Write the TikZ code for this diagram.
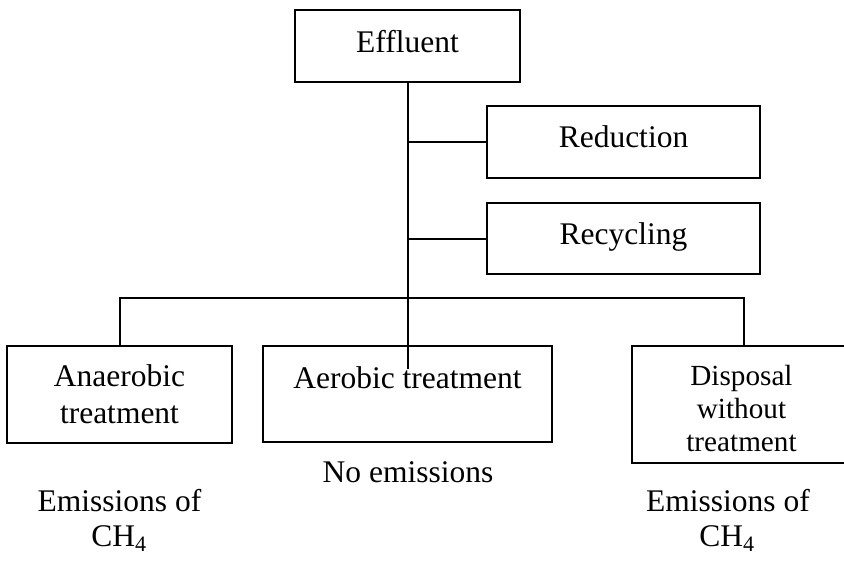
\documentclass[tikz,border=0pt]{standalone}
\usepackage{fontspec}
\setmainfont{Liberation Serif}
\begin{document}
\begin{tikzpicture}[x=1pt,y=-1pt,
  box/.style={draw=black,line width=2pt,rectangle,inner sep=0pt,fill=none},
  conn/.style={draw=black,line width=2pt},
  txt/.style={inner sep=0pt,anchor=base,font=\fontsize{31.5}{36}\selectfont},
  stxt/.style={inner sep=0pt,anchor=base,font=\fontsize{29.2}{34}\selectfont}]
\useasboundingbox (0,0) rectangle (844,560);
\fill[white] (0,0) rectangle (844,560);
% boxes
\node[box,minimum width=225pt,minimum height=72pt] (eff) at (407.5,46) {};
\node[box,minimum width=273pt,minimum height=72pt] (red) at (623.5,142) {};
\node[box,minimum width=273pt,minimum height=71pt] (rec) at (623.5,238.5) {};
\node[box,minimum width=225pt,minimum height=97pt] (ana) at (119.5,394.5) {};
\node[box,minimum width=289pt,minimum height=96pt] (aer) at (407.5,394) {};
\node[box,minimum width=219pt,minimum height=117pt] (dis) at (741.5,404.5) {};
% box texts
\node[txt] (efft) at (407.5,52) {Effluent};
\node[txt] (redt) at (623.5,147) {Reduction};
\node[txt] (rect) at (623.5,244) {Recycling};
\node[txt] (anat1) at (119.5,386) {Anaerobic};
\node[txt] (anat2) at (119.5,423) {treatment};
\node[txt] (aert) at (407.5,388) {Aerobic treatment};
\node[stxt] (dist1) at (741.5,385) {Disposal};
\node[stxt] (dist2) at (741.5,418) {without};
\node[stxt] (dist3) at (741.5,451) {treatment};
% outcome texts
\node[txt] (noem) at (408,482) {No emissions};
\node[txt] (em1a) at (119.5,511) {Emissions of};
\node[txt] (em1b) at (119,546) {CH\textsubscript{4}};
\node[txt] (em2a) at (728,511) {Emissions of};
\node[txt] (em2b) at (727,546) {CH\textsubscript{4}};
% connectors
\coordinate (trunkend) at (407.5,369);
\coordinate (jred) at (407.5,142);
\coordinate (jrec) at (407.5,238.5);
\coordinate (bus) at (407.5,298);
\draw[conn] (eff.south) -- (trunkend);
\draw[conn] (jred) -- (red.west);
\draw[conn] (jrec) -- (rec.west);
\draw[conn] (ana.north) |- (bus) -| ([xshift=2.5pt]dis.north);
\end{tikzpicture}
\end{document}
